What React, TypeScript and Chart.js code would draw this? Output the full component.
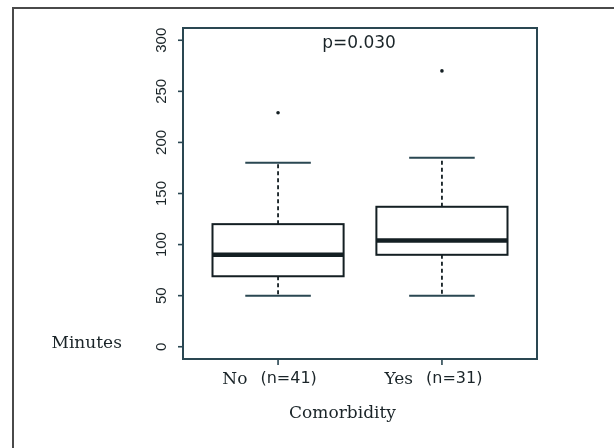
import React, { useEffect, useRef } from "react";
import { Chart, registerables } from "chart.js";

Chart.register(...registerables);

const categories = ["No", "Yes"];
const groupSizes = ["(n=41)", "(n=31)"];
const lowerWhisker = [50, 50];
const q1 = [69, 90];
const median = [90, 104];
const q3 = [120, 137];
const upperWhisker = [180, 185];
const outliers = [[229], [270]];
const yTicks = [0, 50, 100, 150, 200, 250, 300];
const pValueLabel = "p=0.030";
const yAxisTitle = "Minutes";
const xAxisTitle = "Comorbidity";

const AXIS_COLOR = "#2a4752";
const BOX_COLOR = "#141f23";
const TEXT_COLOR = "#1a2428";
const SERIF = "'DejaVu Serif', serif";
const SANS = "'Liberation Sans', Arial, sans-serif";
const SANS2 = "'DejaVu Sans', sans-serif";

const boxPlugin = {
  id: "boxplot",
  beforeDatasetsDraw(chart: any) {
    const ctx = chart.ctx as CanvasRenderingContext2D;
    const x = chart.scales.x;
    const y = chart.scales.y;
    ctx.save();
    categories.forEach((_, i) => {
      const pos = i + 1;
      const cx = x.getPixelForValue(pos);
      const bl = x.getPixelForValue(pos - 0.4);
      const br = x.getPixelForValue(pos + 0.4);
      const sl = x.getPixelForValue(pos - 0.2);
      const sr = x.getPixelForValue(pos + 0.2);
      const yLo = y.getPixelForValue(lowerWhisker[i]);
      const yQ1 = y.getPixelForValue(q1[i]);
      const yMed = y.getPixelForValue(median[i]);
      const yQ3 = y.getPixelForValue(q3[i]);
      const yHi = y.getPixelForValue(upperWhisker[i]);
      ctx.strokeStyle = BOX_COLOR;
      ctx.lineWidth = 1.8;
      ctx.setLineDash([4, 3]);
      ctx.beginPath();
      ctx.moveTo(cx, yQ3);
      ctx.lineTo(cx, yHi);
      ctx.moveTo(cx, yQ1);
      ctx.lineTo(cx, yLo);
      ctx.stroke();
      ctx.setLineDash([]);
      ctx.strokeStyle = AXIS_COLOR;
      ctx.lineWidth = 2;
      ctx.beginPath();
      ctx.moveTo(sl, yHi);
      ctx.lineTo(sr, yHi);
      ctx.moveTo(sl, yLo);
      ctx.lineTo(sr, yLo);
      ctx.stroke();
      ctx.fillStyle = "#ffffff";
      ctx.fillRect(bl, yQ3, br - bl, yQ1 - yQ3);
      ctx.strokeStyle = BOX_COLOR;
      ctx.lineWidth = 2;
      ctx.strokeRect(bl, yQ3, br - bl, yQ1 - yQ3);
      ctx.lineWidth = 4.5;
      ctx.beginPath();
      ctx.moveTo(bl, yMed);
      ctx.lineTo(br, yMed);
      ctx.stroke();
    });
    ctx.restore();
  },
  afterDraw(chart: any) {
    const ctx = chart.ctx as CanvasRenderingContext2D;
    const area = chart.chartArea;
    const x = chart.scales.x;
    const y = chart.scales.y;
    ctx.save();
    ctx.strokeStyle = AXIS_COLOR;
    ctx.lineWidth = 2;
    ctx.strokeRect(area.left, area.top, area.right - area.left, area.bottom - area.top);
    ctx.fillStyle = TEXT_COLOR;
    ctx.font = `15px ${SANS}`;
    ctx.lineWidth = 1.6;
    yTicks.forEach((t) => {
      const py = y.getPixelForValue(t);
      ctx.beginPath();
      ctx.moveTo(area.left - 5, py);
      ctx.lineTo(area.left, py);
      ctx.stroke();
      ctx.save();
      ctx.translate(area.left - 17, py);
      ctx.rotate(-Math.PI / 2);
      ctx.textAlign = "center";
      ctx.textBaseline = "alphabetic";
      ctx.fillText(String(t), 0, 0);
      ctx.restore();
    });
    categories.forEach((c, i) => {
      const px = x.getPixelForValue(i + 1);
      ctx.beginPath();
      ctx.moveTo(px, area.bottom);
      ctx.lineTo(px, area.bottom + 6);
      ctx.stroke();
      ctx.font = `17px ${SERIF}`;
      const w1 = ctx.measureText(c).width;
      ctx.font = `16px ${SANS2}`;
      const w2 = ctx.measureText(groupSizes[i]).width;
      const gap = 13;
      const total = w1 + gap + w2;
      const start = px - total / 2 - 8.5;
      ctx.textAlign = "left";
      ctx.textBaseline = "alphabetic";
      ctx.font = `17px ${SERIF}`;
      ctx.fillText(c, start, area.bottom + 25);
      ctx.font = `16px ${SANS2}`;
      ctx.fillText(groupSizes[i], start + w1 + gap, area.bottom + 24);
    });
    ctx.font = `17px ${SERIF}`;
    ctx.textAlign = "left";
    ctx.fillText(yAxisTitle, area.left - 131.5, y.getPixelForValue(0) + 1.5);
    ctx.textAlign = "center";
    ctx.fillText(xAxisTitle, (area.left + area.right) / 2 - 17.5, area.bottom + 59);
    ctx.font = `17px ${SANS2}`;
    ctx.fillText(pValueLabel, (area.left + area.right) / 2 - 1, area.top + 20);
    ctx.restore();
  },
};

export default function App() {
  const ref = useRef<HTMLCanvasElement | null>(null);
  useEffect(() => {
    if (!ref.current) return;
    const points: { x: number; y: number }[] = [];
    outliers.forEach((arr, i) => arr.forEach((v) => points.push({ x: i + 1, y: v })));
    const chart = new Chart(ref.current, {
      type: "scatter",
      data: {
        datasets: [
          {
            data: points,
            pointRadius: 1.8,
            pointBackgroundColor: BOX_COLOR,
            pointBorderColor: BOX_COLOR,
            pointBorderWidth: 0,
          },
        ],
      },
      options: {
        animation: false,
        responsive: false,
        devicePixelRatio: 1,
        layout: { padding: { left: 183, top: 28, right: 77, bottom: 89 } },
        plugins: { legend: { display: false }, tooltip: { enabled: false } },
        scales: {
          x: { type: "linear", min: 0.42, max: 2.58, display: false },
          y: { type: "linear", min: -12, max: 312, display: false },
        },
      },
      plugins: [boxPlugin],
    });
    return () => chart.destroy();
  }, []);
  return (
    <div
      style={{
        position: "fixed",
        left: 0,
        top: 0,
        width: 614,
        height: 448,
        background: "#ffffff",
        overflow: "hidden",
      }}
    >
      <div
        style={{
          position: "absolute",
          left: 12,
          top: 7,
          right: -10,
          bottom: -10,
          borderTop: "2px solid #4a4a4a",
          borderLeft: "2px solid #4a4a4a",
        }}
      />
      <canvas
        ref={ref}
        width={614}
        height={448}
        style={{ position: "absolute", left: 0, top: 0, width: 614, height: 448 }}
      />
    </div>
  );
}
